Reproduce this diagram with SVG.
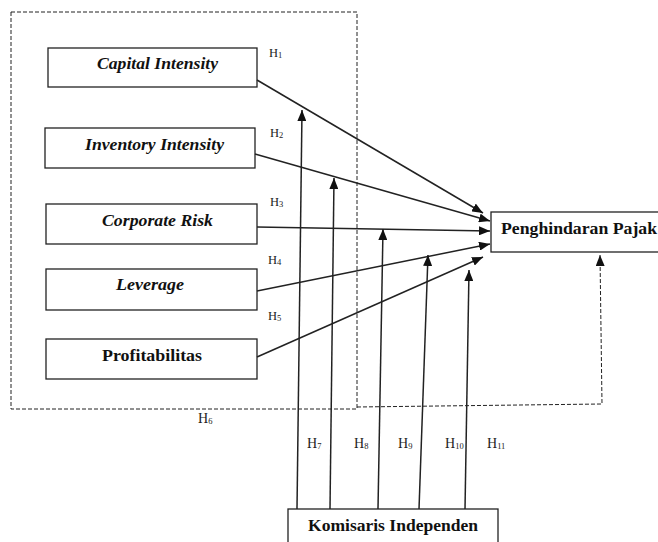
<svg xmlns="http://www.w3.org/2000/svg" width="658" height="542" viewBox="0 0 658 542">
<style>
.box{fill:#fff;stroke:#222;stroke-width:1.3}
.lbl{font-family:"Liberation Serif","Times New Roman",serif;font-size:16px;font-weight:bold;fill:#111}
.it{font-style:italic}
.h{font-family:"Liberation Serif","Times New Roman",serif;font-size:12.5px;fill:#222}
.hb{font-size:14px}
.sub{font-size:8.5px}
.ln{stroke:#222;stroke-width:1.5;fill:none}
.dash{stroke:#222;stroke-width:1;fill:none;stroke-dasharray:4,2}
</style>
<defs>
<marker id="arr" markerUnits="userSpaceOnUse" markerWidth="11" markerHeight="9" viewBox="0 0 11 9" refX="11" refY="4.5" orient="auto">
<path d="M0,0 L11,4.5 L0,9 z" fill="#111"/>
</marker>
</defs>
<g id="frame">
<rect x="11" y="12" width="346" height="397" class="dash"/>
</g>
<g id="capital-intensity">
<rect x="48" y="48" width="209" height="39" class="box"/>
<text x="97" y="69" class="lbl it" textLength="121" lengthAdjust="spacingAndGlyphs">Capital Intensity</text>
</g>
<g id="inventory-intensity">
<rect x="45" y="128" width="210" height="40" class="box"/>
<text x="85" y="150" class="lbl it" textLength="139" lengthAdjust="spacingAndGlyphs">Inventory Intensity</text>
</g>
<g id="corporate-risk">
<rect x="46" y="204" width="211" height="40" class="box"/>
<text x="102" y="226" class="lbl it" textLength="111" lengthAdjust="spacingAndGlyphs">Corporate Risk</text>
</g>
<g id="leverage">
<rect x="46" y="269" width="211" height="41" class="box"/>
<text x="116" y="290" class="lbl it" textLength="68" lengthAdjust="spacingAndGlyphs">Leverage</text>
</g>
<g id="profitabilitas">
<rect x="46" y="339" width="211" height="40" class="box"/>
<text x="102" y="361" class="lbl" textLength="100" lengthAdjust="spacingAndGlyphs">Profitabilitas</text>
</g>
<g id="penghindaran-pajak">
<rect x="491" y="212" width="168" height="40" class="box"/>
<text x="501" y="234" class="lbl" textLength="156" lengthAdjust="spacingAndGlyphs">Penghindaran Pajak</text>
</g>
<g id="komisaris-independen">
<rect x="288" y="509" width="210" height="45" class="box"/>
<text x="308" y="531" class="lbl" textLength="170" lengthAdjust="spacingAndGlyphs">Komisaris Independen</text>
</g>
<g id="connectors">
<line x1="257" y1="80" x2="483" y2="213" class="ln" marker-end="url(#arr)"/>
<line x1="255" y1="154" x2="490" y2="221" class="ln" marker-end="url(#arr)"/>
<line x1="257" y1="227" x2="490" y2="231" class="ln" marker-end="url(#arr)"/>
<line x1="257" y1="291" x2="490" y2="244" class="ln" marker-end="url(#arr)"/>
<line x1="257" y1="357" x2="483" y2="257" class="ln" marker-end="url(#arr)"/>
<line x1="297" y1="509" x2="302" y2="110" class="ln" marker-end="url(#arr)"/>
<line x1="330" y1="509" x2="334" y2="178" class="ln" marker-end="url(#arr)"/>
<line x1="378" y1="509" x2="383" y2="229" class="ln" marker-end="url(#arr)"/>
<line x1="419" y1="509" x2="428" y2="255" class="ln" marker-end="url(#arr)"/>
<line x1="465" y1="509" x2="469" y2="270" class="ln" marker-end="url(#arr)"/>
<polyline points="357,407 602,404 600,255" class="dash" marker-end="url(#arr)"/>
</g>
<g id="labels">
<text x="269" y="57" class="h">H<tspan class="sub" dy="1">1</tspan></text>
<text x="270" y="137" class="h">H<tspan class="sub" dy="1">2</tspan></text>
<text x="270" y="206" class="h">H<tspan class="sub" dy="1">3</tspan></text>
<text x="268" y="264" class="h">H<tspan class="sub" dy="1">4</tspan></text>
<text x="268" y="320" class="h">H<tspan class="sub" dy="1">5</tspan></text>
<text x="198" y="423" class="h hb">H<tspan class="sub" dy="1">6</tspan></text>
<text x="307" y="448" class="h hb">H<tspan class="sub" dy="1">7</tspan></text>
<text x="354" y="448" class="h hb">H<tspan class="sub" dy="1">8</tspan></text>
<text x="398" y="448" class="h hb">H<tspan class="sub" dy="1">9</tspan></text>
<text x="445" y="448" class="h hb">H<tspan class="sub" dy="1">10</tspan></text>
<text x="487" y="448" class="h hb">H<tspan class="sub" dy="1">11</tspan></text>
</g>
</svg>
